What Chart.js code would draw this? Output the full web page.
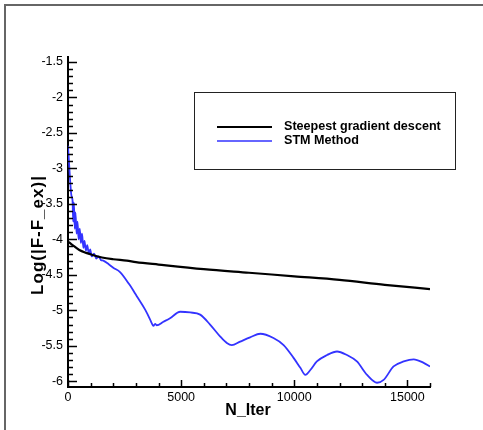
<!DOCTYPE html>
<html>
<head>
<meta charset="utf-8">
<script src="https://cdn.jsdelivr.net/npm/chart.js@4.4.1/dist/chart.umd.min.js"></script>
<style>
  html, body { margin: 0; padding: 0; background: #fff; }
  #wrap { position: relative; width: 483px; height: 430px; }
</style>
</head>
<body>
<div id="wrap"><canvas id="c" width="483" height="430"></canvas></div>
<script>
// ---- data ----
const seriesNames = ["Steepest gradient descent", "STM Method"];
const xTickValues = [0, 5000, 10000, 15000];
const yTickValues = [-6, -5.5, -5, -4.5, -4, -3.5, -3, -2.5, -2, -1.5];

const sgdX = [0, 200, 500, 800, 1100, 1500, 2000, 2600, 3000, 4000, 6000, 8000, 10000, 12000, 14000, 16000];
const sgdY = [-4.03, -4.08, -4.15, -4.19, -4.22, -4.255, -4.28, -4.30, -4.32, -4.355, -4.42, -4.47, -4.52, -4.57, -4.64, -4.70];

const stmX = [0, 60, 100, 150, 200, 230, 260, 300, 330, 380, 420, 470, 520, 570, 620, 680, 730, 790, 850, 920, 980, 1050, 1150, 1250, 1350, 1450, 1560, 1800, 2000, 2300, 2700, 3040, 3410, 3630, 3700, 3775, 3850, 3920, 4220, 4510, 4960, 5400, 5840, 6280, 6730, 7020, 7240, 7610, 8050, 8500, 9080, 9530, 9970, 10270, 10490, 10710, 11000, 11450, 11890, 12330, 12770, 13220, 13660, 13950, 14390, 14840, 15280, 15720, 16000];
const stmY = [-2.68, -3.0, -3.2, -3.38, -3.45, -3.75, -3.48, -3.85, -3.62, -3.92, -3.75, -4.0, -3.85, -4.05, -3.92, -4.12, -4.02, -4.16, -4.08, -4.2, -4.14, -4.24, -4.2, -4.27, -4.24, -4.29, -4.30, -4.35, -4.40, -4.46, -4.63, -4.80, -4.99, -5.13, -5.18, -5.22, -5.19, -5.21, -5.16, -5.11, -5.02, -5.03, -5.06, -5.20, -5.37, -5.46, -5.49, -5.44, -5.38, -5.33, -5.39, -5.49, -5.67, -5.81, -5.91, -5.84, -5.72, -5.63, -5.58, -5.63, -5.72, -5.91, -6.02, -5.98, -5.79, -5.72, -5.69, -5.74, -5.79];

const toPts = (xs, ys) => xs.map((x, i) => ({ x: x, y: ys[i] }));

const FONT = "'Liberation Sans', Arial, Helvetica, sans-serif";

const decor = {
  id: 'decor',
  beforeDraw(chart) {
    const ctx = chart.ctx;
    ctx.save();
    ctx.fillStyle = '#fff';
    ctx.fillRect(0, 0, chart.width, chart.height);
    ctx.strokeStyle = '#666';
    ctx.lineWidth = 2;
    ctx.beginPath();
    ctx.moveTo(5, 440);
    ctx.lineTo(5, 5);
    ctx.lineTo(490, 5);
    ctx.stroke();
    ctx.restore();
  },
  afterDraw(chart) {
    const ctx = chart.ctx;
    const xs = chart.scales.x, ys = chart.scales.y;
    const area = chart.chartArea;
    ctx.save();
    ctx.strokeStyle = '#000';
    ctx.lineWidth = 1.5;
    // y ticks (inward)
    for (let k = -60; k <= -15; k++) {
      const v = k / 10;
      const py = Math.round(ys.getPixelForValue(v)) + 0.5;
      const major = (k % 5 === 0);
      ctx.beginPath();
      ctx.moveTo(area.left, py);
      ctx.lineTo(area.left + (major ? 9 : 5), py);
      ctx.stroke();
    }
    // x ticks (inward)
    for (let k = 0; k <= 16; k++) {
      const v = k * 1000;
      const px = Math.round(xs.getPixelForValue(v)) + 0.5;
      const major = (k % 5 === 0);
      ctx.beginPath();
      ctx.moveTo(px, area.bottom);
      ctx.lineTo(px, area.bottom - (major ? 7 : 4));
      ctx.stroke();
    }
    // axis titles
    ctx.fillStyle = '#000';
    ctx.font = "bold 16px " + FONT;
    ctx.textAlign = 'center';
    ctx.textBaseline = 'middle';
    ctx.fillText('N_Iter', 248, 411);
    ctx.save();
    ctx.translate(38, 235);
    ctx.rotate(-Math.PI / 2);
    ctx.font = "bold 17px " + FONT;
    try { ctx.letterSpacing = '1px'; } catch (e) {}
    ctx.fillText('Log(|F-F_ex)|', 0, 0);
    ctx.restore();
    // legend
    ctx.lineWidth = 1;
    ctx.strokeStyle = '#222';
    ctx.strokeRect(194.5, 92.5, 261, 77);
    const ds = chart.data.datasets;
    const rows = [127, 141];
    ds.forEach((d, i) => {
      ctx.strokeStyle = d.borderColor;
      ctx.lineWidth = i === 0 ? 2 : 1.5;
      ctx.beginPath();
      ctx.moveTo(217, rows[i]);
      ctx.lineTo(272, rows[i]);
      ctx.stroke();
      ctx.fillStyle = '#000';
      ctx.font = "bold 12.6px " + FONT;
      ctx.textAlign = 'left';
      ctx.textBaseline = 'middle';
      ctx.fillText(d.label, 284, rows[i]);
    });
    ctx.restore();
  }
};

new Chart(document.getElementById('c'), {
  type: 'line',
  data: {
    datasets: [
      { label: seriesNames[0], data: toPts(sgdX, sgdY), borderColor: '#000000', borderWidth: 2.2, pointRadius: 0, cubicInterpolationMode: 'monotone', fill: false },
      { label: seriesNames[1], data: toPts(stmX, stmY), borderColor: '#3333ff', borderWidth: 1.8, pointRadius: 0, cubicInterpolationMode: 'monotone', fill: false }
    ]
  },
  options: {
    responsive: false,
    animation: false,
    events: [],
    layout: { padding: { top: 57, right: 53, left: 0, bottom: 0 } },
    plugins: { legend: { display: false }, tooltip: { enabled: false } },
    scales: {
      x: {
        type: 'linear', min: 0, max: 16000,
        grid: { display: false, drawTicks: false },
        border: { display: true, color: '#000', width: 2 },
        ticks: { color: '#000', font: { family: FONT, size: 12.5 }, padding: 3, maxRotation: 0,
          callback: (v) => String(v) },
        afterBuildTicks: (s) => { s.ticks = xTickValues.map(v => ({ value: v })); },
        afterFit: (s) => { s.height = 43; }
      },
      y: {
        type: 'linear', min: -6.08, max: -1.43,
        grid: { display: false, drawTicks: false },
        border: { display: true, color: '#000', width: 2 },
        ticks: { color: '#000', font: { family: FONT, size: 12.5 }, padding: 5,
          callback: (v) => String(v) },
        afterBuildTicks: (s) => { s.ticks = yTickValues.map(v => ({ value: v })); },
        afterFit: (s) => { s.width = 68; }
      }
    }
  },
  plugins: [decor]
});
</script>
</body>
</html>
